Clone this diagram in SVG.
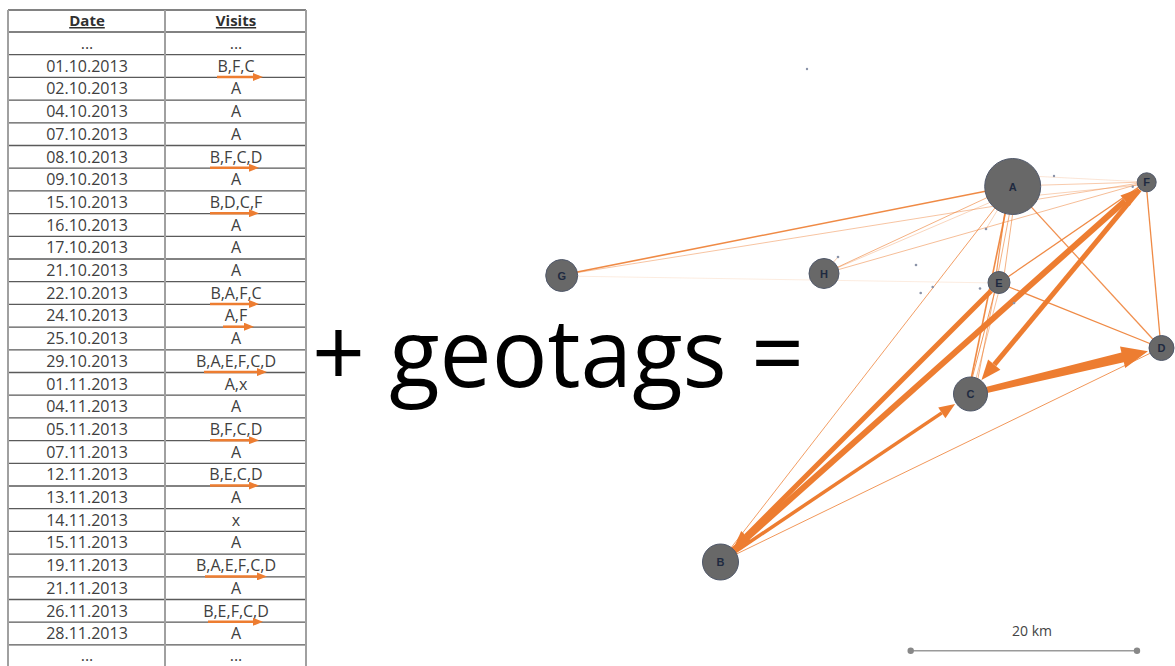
<svg xmlns="http://www.w3.org/2000/svg" width="1175" height="666" viewBox="0 0 1175 666">
<style>
.cell{font-family:"Open Sans","Liberation Sans",sans-serif;font-size:16px;fill:#404040;text-anchor:middle}
.hdr{font-family:"Open Sans","Liberation Sans",sans-serif;font-size:15px;font-weight:bold;fill:#303030;text-anchor:middle;text-decoration:underline}
.tarr{stroke:#ED7D31;stroke-width:2.5;fill:none;marker-end:url(#tah)}
.e{stroke:#ED7D31;fill:none}
.ah{fill:#ED7D31}
.node{fill:#686868;stroke:#50586a;stroke-width:1}
.lbl{font-family:"Liberation Sans",sans-serif;font-size:11px;font-weight:bold;fill:#1f2a40;text-anchor:middle}
.dot{fill:#8a93a8}
</style>
<defs>
<marker id="tah" viewBox="0 0 10 8" refX="6" refY="4" markerWidth="10" markerHeight="8" markerUnits="userSpaceOnUse" orient="auto">
<path d="M0,0 L10,4 L0,8 z" fill="#ED7D31"/>
</marker>
</defs>
<rect width="1175" height="666" fill="#ffffff"/>

<g id="table">
<path d="M8,10 H306 M8,32 H306 M8,54.7 H306 M8,77.4 H306 M8,100.1 H306 M8,122.8 H306 M8,145.5 H306 M8,168.2 H306 M8,190.9 H306 M8,213.6 H306 M8,236.3 H306 M8,259 H306 M8,281.7 H306 M8,304.4 H306 M8,327.1 H306 M8,349.8 H306 M8,372.5 H306 M8,395.2 H306 M8,417.9 H306 M8,440.6 H306 M8,463.3 H306 M8,486 H306 M8,508.7 H306 M8,531.4 H306 M8,554.1 H306 M8,576.8 H306 M8,599.5 H306 M8,622.2 H306 M8,644.9 H306" stroke="#5a5a5a" stroke-width="1.3" fill="none"/>
<path d="M8,10 V666 M165,10 V666 M306,10 V666" stroke="#a0a0a0" stroke-width="2" fill="none"/>
<text class="hdr" x="87" y="26">Date</text>
<text class="hdr" x="236" y="26">Visits</text>
<g class="cell">
<text x="87" y="49">...</text><text x="236" y="49">...</text>
<text x="87" y="71.7">01.10.2013</text><text x="236" y="71.7">B,F,C</text>
<text x="87" y="94.4">02.10.2013</text><text x="236" y="94.4">A</text>
<text x="87" y="117.1">04.10.2013</text><text x="236" y="117.1">A</text>
<text x="87" y="139.8">07.10.2013</text><text x="236" y="139.8">A</text>
<text x="87" y="162.5">08.10.2013</text><text x="236" y="162.5">B,F,C,D</text>
<text x="87" y="185.2">09.10.2013</text><text x="236" y="185.2">A</text>
<text x="87" y="207.9">15.10.2013</text><text x="236" y="207.9">B,D,C,F</text>
<text x="87" y="230.6">16.10.2013</text><text x="236" y="230.6">A</text>
<text x="87" y="253.3">17.10.2013</text><text x="236" y="253.3">A</text>
<text x="87" y="276">21.10.2013</text><text x="236" y="276">A</text>
<text x="87" y="298.7">22.10.2013</text><text x="236" y="298.7">B,A,F,C</text>
<text x="87" y="321.4">24.10.2013</text><text x="236" y="321.4">A,F</text>
<text x="87" y="344.1">25.10.2013</text><text x="236" y="344.1">A</text>
<text x="87" y="366.8">29.10.2013</text><text x="236" y="366.8">B,A,E,F,C,D</text>
<text x="87" y="389.5">01.11.2013</text><text x="236" y="389.5">A,x</text>
<text x="87" y="412.2">04.11.2013</text><text x="236" y="412.2">A</text>
<text x="87" y="434.9">05.11.2013</text><text x="236" y="434.9">B,F,C,D</text>
<text x="87" y="457.6">07.11.2013</text><text x="236" y="457.6">A</text>
<text x="87" y="480.3">12.11.2013</text><text x="236" y="480.3">B,E,C,D</text>
<text x="87" y="503">13.11.2013</text><text x="236" y="503">A</text>
<text x="87" y="525.7">14.11.2013</text><text x="236" y="525.7">x</text>
<text x="87" y="548.4">15.11.2013</text><text x="236" y="548.4">A</text>
<text x="87" y="571.1">19.11.2013</text><text x="236" y="571.1">B,A,E,F,C,D</text>
<text x="87" y="593.8">21.11.2013</text><text x="236" y="593.8">A</text>
<text x="87" y="616.5">26.11.2013</text><text x="236" y="616.5">B,E,F,C,D</text>
<text x="87" y="639.2">28.11.2013</text><text x="236" y="639.2">A</text>
<text x="87" y="661">...</text><text x="236" y="661">...</text>
</g>
<g id="table-arrows">
<line class="tarr" x1="217" y1="77" x2="259" y2="77"/>
<line class="tarr" x1="210" y1="167.8" x2="255" y2="167.8"/>
<line class="tarr" x1="210" y1="213.2" x2="255" y2="213.2"/>
<line class="tarr" x1="210" y1="304" x2="255" y2="304"/>
<line class="tarr" x1="223" y1="326.7" x2="250" y2="326.7"/>
<line class="tarr" x1="204" y1="372.1" x2="263" y2="372.1"/>
<line class="tarr" x1="210" y1="440.2" x2="255" y2="440.2"/>
<line class="tarr" x1="210" y1="485.6" x2="255" y2="485.6"/>
<line class="tarr" x1="205" y1="576.4" x2="263" y2="576.4"/>
<line class="tarr" x1="208" y1="621.8" x2="259" y2="621.8"/>
</g>
</g>

<g id="title">
<text x="312" y="387" font-family="'Open Sans','Liberation Sans',sans-serif" font-size="96" fill="#000000" textLength="492" lengthAdjust="spacingAndGlyphs">+ geotags =</text>
</g>

<g id="connectors">
<line class="e" x1="562" y1="275" x2="1012" y2="186" stroke-width="1.6" opacity="0.9"/>
<line class="e" x1="562" y1="275" x2="1146" y2="182" stroke-width="1" opacity="0.45"/>
<line class="e" x1="562" y1="276" x2="999" y2="283" stroke-width="1" opacity="0.15"/>
<line class="e" x1="823" y1="274" x2="1012" y2="186" stroke-width="1" opacity="0.6"/>
<line class="e" x1="823" y1="274" x2="1005" y2="196" stroke-width="0.8" opacity="0.4"/>
<line class="e" x1="823" y1="274" x2="1146" y2="182" stroke-width="1" opacity="0.5"/>
<line class="e" x1="823" y1="274" x2="838" y2="257" stroke-width="0.8" opacity="0.5"/>
<line class="e" x1="1012" y1="186" x2="720" y2="562" stroke-width="1" opacity="0.75"/>
<line class="e" x1="1008" y1="190" x2="995" y2="283" stroke-width="1.2" opacity="0.8"/>
<line class="e" x1="1016" y1="190" x2="1003" y2="283" stroke-width="1" opacity="0.6"/>
<line class="e" x1="1010" y1="190" x2="968" y2="394" stroke-width="1.6" opacity="0.9"/>
<line class="e" x1="1014" y1="190" x2="975" y2="394" stroke-width="1" opacity="0.6"/>
<line class="e" x1="1012" y1="186" x2="1161" y2="348" stroke-width="1.3" opacity="0.85"/>
<line class="e" x1="1012" y1="186" x2="1146" y2="182" stroke-width="1" opacity="0.4"/>
<line class="e" x1="1030" y1="196" x2="1140" y2="185" stroke-width="1" opacity="0.35"/>
<line class="e" x1="1030" y1="176" x2="1146" y2="182" stroke-width="0.8" opacity="0.25"/>
<line class="e" x1="1012" y1="186" x2="986" y2="229" stroke-width="0.8" opacity="0.4"/>
<line class="e" x1="999" y1="283" x2="1146" y2="182" stroke-width="1.3" opacity="0.9"/>
<line class="e" x1="999" y1="283" x2="1161" y2="348" stroke-width="1.3" opacity="0.9"/>
<line class="e" x1="997" y1="283" x2="968" y2="394" stroke-width="1" opacity="0.8"/>
<line class="e" x1="1001" y1="283" x2="972" y2="394" stroke-width="0.8" opacity="0.6"/>
<line class="e" x1="1146" y1="182" x2="1161" y2="348" stroke-width="1.3" opacity="0.9"/>
<line class="e" x1="720" y1="562" x2="1161" y2="348" stroke-width="1" opacity="0.8"/>
<line class="e" x1="991.2" y1="290.8" x2="746.1" y2="535.9" stroke-width="5"/>
<polygon class="ah" points="733.4,548.6 751.1,540.8 741.2,530.9"/>
<line class="e" x1="733.4" y1="550" x2="1125.1" y2="200.7" stroke-width="6"/>
<polygon class="ah" points="1138.5,188.7 1129.8,205.9 1120.4,195.5"/>
<line class="e" x1="1139.6" y1="189.7" x2="994.3" y2="364.7" stroke-width="5"/>
<polygon class="ah" points="981.5,380.1 1000.4,369.8 988.1,359.6"/>
<line class="e" x1="734.9" y1="552" x2="941.8" y2="412.9" stroke-width="3.5"/>
<polygon class="ah" points="955.1,404 945.4,418.3 938.2,407.5"/>
<polygon class="ah" points="985.8,387.1 1121.4,352.4 1120,346.6 1147.9,351.2 1125.2,368 1123.8,362.2 987.2,392.9"/>
</g>

<g id="minor-nodes">
<circle class="dot" cx="807" cy="69" r="1.2"/>
<circle class="dot" cx="838" cy="257" r="1.3"/>
<circle class="dot" cx="916" cy="265" r="1.3"/>
<circle class="dot" cx="932.7" cy="287" r="1.3"/>
<circle class="dot" cx="920.7" cy="293" r="1.3"/>
<circle class="dot" cx="986" cy="229" r="1.3"/>
<circle class="dot" cx="980" cy="288.5" r="1.3"/>
<circle class="dot" cx="1014" cy="303" r="1.3"/>
<circle class="dot" cx="1054" cy="176" r="1.2"/>
<circle class="dot" cx="1132.7" cy="186.7" r="1.2"/>
</g>

<g id="node-A"><circle class="node" cx="1012.7" cy="186.5" r="28"/><text class="lbl" x="1012.7" y="191.3" font-size="13">A</text></g>
<g id="node-F"><circle class="node" cx="1146.7" cy="182.3" r="9.5"/><text class="lbl" x="1146.7" y="186.3">F</text></g>
<g id="node-G"><circle class="node" cx="561.7" cy="275.5" r="16"/><text class="lbl" x="561.7" y="279.5">G</text></g>
<g id="node-H"><circle class="node" cx="824" cy="273.5" r="15"/><text class="lbl" x="824" y="277.5">H</text></g>
<g id="node-E"><circle class="node" cx="999" cy="282.5" r="11"/><text class="lbl" x="999" y="286.5">E</text></g>
<g id="node-D"><circle class="node" cx="1161.5" cy="348" r="12.5"/><text class="lbl" x="1161.5" y="352">D</text></g>
<g id="node-C"><circle class="node" cx="970.5" cy="394" r="17"/><text class="lbl" x="970.5" y="398">C</text></g>
<g id="node-B"><circle class="node" cx="720.5" cy="562" r="18"/><text class="lbl" x="720.5" y="566">B</text></g>

<g id="scale-bar">
<line x1="910.7" y1="650.7" x2="1137" y2="650.7" stroke="#9a9a9a" stroke-width="1.5"/>
<circle cx="910.7" cy="650.7" r="3.2" fill="#888888"/>
<circle cx="1137" cy="650.7" r="3.2" fill="#888888"/>
<text x="1032" y="636" font-family="'Open Sans','Liberation Sans',sans-serif" font-size="14" fill="#444444" text-anchor="middle">20 km</text>
</g>
</svg>
